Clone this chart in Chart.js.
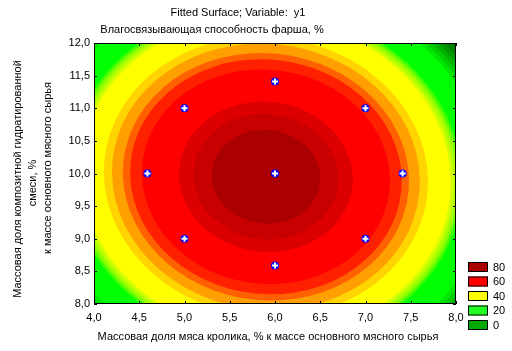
<!DOCTYPE html>
<html>
<head>
<meta charset="utf-8">
<script src="https://cdn.jsdelivr.net/npm/chart.js@4.4.1/dist/chart.umd.min.js"></script>
<style>
  html, body { margin: 0; padding: 0; background: #fff; }
  #wrap { width: 512px; height: 351px; }
</style>
</head>
<body>
<div id="wrap"><canvas id="chart"></canvas></div>
<script>
// ── DATA ──
const xTickLabels = ['4,0', '4,5', '5,0', '5,5', '6,0', '6,5', '7,0', '7,5', '8,0'];
const yTickLabels = ['8,0', '8,5', '9,0', '9,5', '10,0', '10,5', '11,0', '11,5', '12,0'];

// experimental design points
const designX = [4.59, 5.0, 5.0, 6.0, 6.0, 6.0, 7.0, 7.0, 7.41];
const designY = [10.0, 9.0, 11.0, 8.59, 10.0, 11.41, 9.0, 11.0, 10.0];

// contour bands, inner -> outer; half-width along x through the centre
const surfaceCenter = [5.9, 9.95];
const bandAspect = 1.2;   // half-height / half-width (data units)
const bandTilt = 0.036;   // x-y coupling, contours lean top-left -> bottom-right
const bandColors = ['#aa0000', '#c80000', '#dc0000', '#ff0000', '#ff2000', '#ff6000', '#ffa000', '#ffd400',
                    '#ffff00', '#d4ff00', '#aaff00', '#80ff00', '#40ff00', '#00ff00', '#00e600', '#00cc00',
                    '#00b300', '#009900', '#008000'];
const bandHalfWidth = [0.60, 0.80, 0.96, 1.37, 1.50, 1.58, 1.70, 1.79,
                       2.04, 2.075, 2.11, 2.14, 2.17, 2.45, 2.50, 2.55, 2.60, 2.65];

const legendLabels = ['80', '60', '40', '20', '0'];
const legendColors = ['#aa0000', '#ff0000', '#ffff00', '#22ff22', '#00aa00'];

const FONT = "'Liberation Sans', Arial, sans-serif";

// ── CONTOUR BANDS ──
const contourPlugin = {
  id: 'contour',
  beforeDatasetsDraw(chart) {
    const { ctx, chartArea: { left, right, top, bottom }, scales: { x, y } } = chart;
    ctx.save();
    ctx.beginPath();
    ctx.rect(left, top, right - left, bottom - top);
    ctx.clip();
    ctx.fillStyle = bandColors[bandColors.length - 1];
    ctx.fillRect(left, top, right - left, bottom - top);
    const cx = x.getPixelForValue(surfaceCenter[0]);
    const cy = y.getPixelForValue(surfaceCenter[1]);
    const kx = x.getPixelForValue(surfaceCenter[0] + 1) - cx;
    const ky = cy - y.getPixelForValue(surfaceCenter[1] + 1);
    for (let i = bandHalfWidth.length - 1; i >= 0; i--) {
      const w = bandHalfWidth[i];
      ctx.save();
      ctx.translate(cx, cy);
      ctx.scale(kx * w, -ky * w * bandAspect);
      ctx.rotate(Math.PI / 4);
      ctx.fillStyle = bandColors[i];
      ctx.beginPath();
      ctx.ellipse(0, 0, 1 / Math.sqrt(1 + bandTilt), 1 / Math.sqrt(1 - bandTilt), 0, 0, Math.PI * 2);
      ctx.fill();
      ctx.restore();
    }
    ctx.restore();
  }
};

// ── FRAME, INSIDE TICKS, TITLES, LEGEND ──
const decorPlugin = {
  id: 'decor',
  afterDatasetsDraw(chart) {
    const { ctx, chartArea: { left, right, top, bottom }, scales: { x, y } } = chart;
    ctx.save();
    ctx.strokeStyle = '#000';
    ctx.lineWidth = 1;
    ctx.strokeRect(left + 0.5, top + 0.5, right - left - 1, bottom - top - 1);
    ctx.beginPath();
    x.ticks.forEach(t => {
      const px = Math.round(x.getPixelForValue(t.value)) + 0.5;
      ctx.moveTo(px, top); ctx.lineTo(px, top + 3);
      ctx.moveTo(px, bottom); ctx.lineTo(px, bottom - 3);
    });
    y.ticks.forEach(t => {
      const py = Math.round(y.getPixelForValue(t.value)) + 0.5;
      ctx.moveTo(left, py); ctx.lineTo(left + 3, py);
      ctx.moveTo(right, py); ctx.lineTo(right - 3, py);
    });
    ctx.stroke();
    ctx.restore();
  },
  afterDraw(chart) {
    const { ctx } = chart;
    ctx.save();
    ctx.fillStyle = '#000';
    ctx.font = `11px ${FONT}`;
    ctx.textAlign = 'center';
    ctx.textBaseline = 'middle';
    ctx.fillText('Fitted Surface; Variable:  y1', 238, 13);
    ctx.fillText('Влагосвязывающая способность фарша, %', 212, 30);
    ctx.fillText('Массовая доля мяса кролика, % к массе основного мясного сырья', 268, 337);

    // rotated y title, three lines
    [['Массовая доля композитной гидратированной', 18, 179],
     ['смеси, %', 33, 183],
     ['к массе основного мясного сырья', 48, 168]].forEach(([txt, lx, ly]) => {
      ctx.save();
      ctx.translate(lx, ly);
      ctx.rotate(-Math.PI / 2);
      ctx.fillText(txt, 0, 0);
      ctx.restore();
    });

    // legend
    ctx.textAlign = 'left';
    legendLabels.forEach((lab, i) => {
      const by = 262 + i * 14.5;
      ctx.fillStyle = legendColors[i];
      ctx.fillRect(468, by, 20, 10);
      ctx.strokeStyle = '#000';
      ctx.strokeRect(468.5, by + 0.5, 19, 9);
      ctx.fillStyle = '#000';
      ctx.fillText(lab, 493, by + 5.5);
    });
    ctx.restore();
  }
};

const points = designX.map((v, i) => ({ x: v, y: designY[i] }));

new Chart(document.getElementById('chart'), {
  type: 'scatter',
  data: {
    datasets: [
      {
        data: points,
        order: 1,
        pointStyle: 'cross',
        pointRadius: 3,
        borderColor: '#ffffff',
        borderWidth: 2
      },
      {
        data: points,
        order: 2,
        pointStyle: 'circle',
        pointRadius: 4,
        backgroundColor: '#0000ff',
        borderColor: '#0000ff',
        borderWidth: 0
      }
    ]
  },
  options: {
    responsive: true,
    maintainAspectRatio: false,
    animation: false,
    layout: { padding: { top: 43, right: 56, left: 0, bottom: 0 } },
    plugins: { legend: { display: false }, tooltip: { enabled: false } },
    scales: {
      x: {
        type: 'linear',
        min: 4, max: 8,
        afterFit: s => { s.height = 47; },
        ticks: {
          stepSize: 0.5,
          color: '#000',
          font: { family: FONT, size: 11 },
          padding: 7,
          maxRotation: 0,
          callback: (v, i) => xTickLabels[i]
        },
        grid: { display: false, drawTicks: false },
        border: { display: false }
      },
      y: {
        type: 'linear',
        min: 8, max: 12,
        afterFit: s => { s.width = 94; },
        ticks: {
          stepSize: 0.5,
          color: '#000',
          font: { family: FONT, size: 11 },
          padding: 4,
          callback: (v, i) => yTickLabels[i]
        },
        grid: { display: false, drawTicks: false },
        border: { display: false }
      }
    }
  },
  plugins: [contourPlugin, decorPlugin]
});
</script>
</body>
</html>
